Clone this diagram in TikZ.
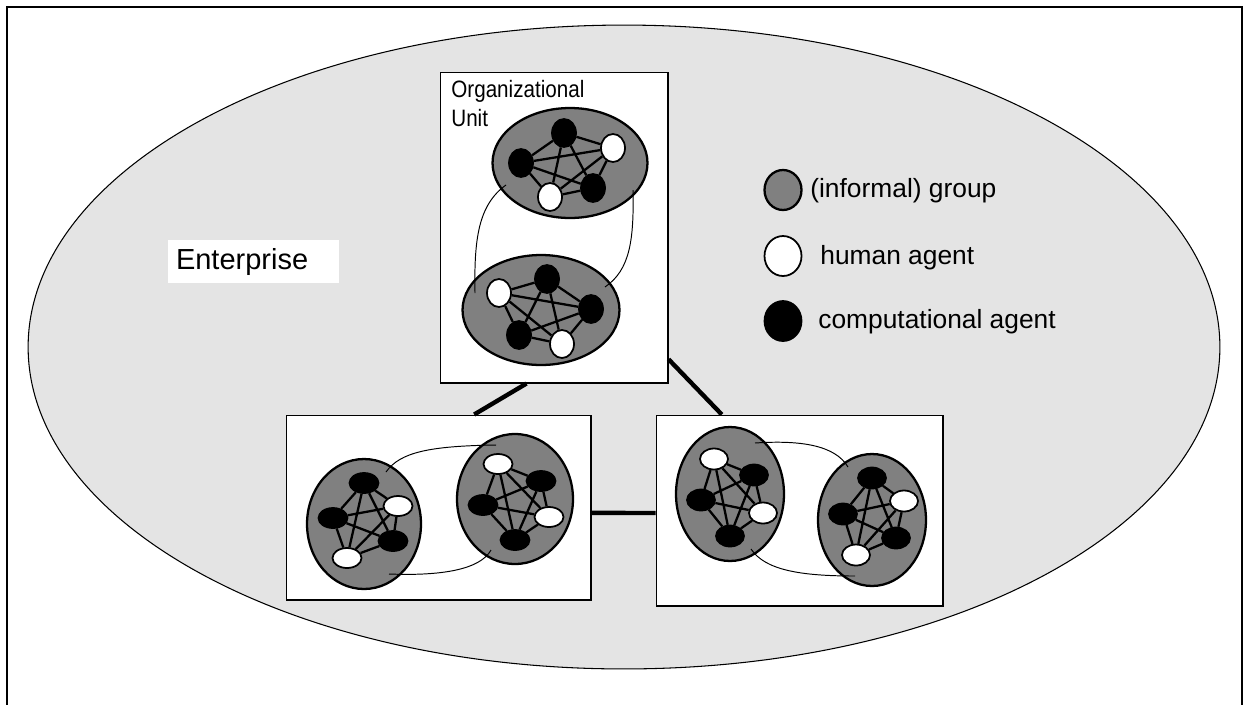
\documentclass[tikz,border=0pt]{standalone}
\usepackage{fontspec}
\setmainfont{Liberation Sans}
\newfontfamily\etroit[FakeStretch=0.87]{Liberation Sans}
\usetikzlibrary{shapes.geometric,calc}

\definecolor{fondent}{RGB}{228,228,228}
\definecolor{gris}{RGB}{128,128,128}

\begin{document}
\begin{tikzpicture}[x=0.02cm,y=-0.02cm]
%styles : groupes, agents et liens
\tikzset{groupe/.style={draw,ellipse,fill=gris,line width=1.3pt,inner sep=0pt},
humain/.style={draw,ellipse,fill=white,line width=1pt,inner sep=0pt},
machine/.style={draw,ellipse,fill=black,line width=1pt,inner sep=0pt},
unite/.style={draw,rectangle,fill=white,line width=0.6pt,inner sep=0pt},
lien/.style={line width=1.3pt},
liaison/.style={line width=2.5pt},
fil/.style={line width=0.55pt},
texte/.style={anchor=base west,inner sep=0pt,font=\fontsize{15}{18}\selectfont}}
\useasboundingbox (0,0) rectangle (1243,704);

%cadre et entreprise
\draw[line width=1.4pt] (7,720) -- (7,7) -- (1242,7) -- (1242,720);
\node[draw,ellipse,fill=fondent,line width=0.6pt,minimum width=23.84cm,minimum height=12.88cm] (ent) at (624,347) {};
\node[fill=white,minimum width=3.42cm,minimum height=0.86cm,text width=3.1cm,inner xsep=0.16cm,inner ysep=0pt,align=left,font=\fontsize{16.5}{20}\selectfont] (nom) at (253.5,261.5) {Enterprise};

%les trois unites
\node[unite,minimum width=4.56cm,minimum height=6.22cm] (ou1) at (554,227.5) {};
\node[unite,minimum width=6.1cm,minimum height=3.7cm] (ou2) at (438.5,507.5) {};
\node[unite,minimum width=5.74cm,minimum height=3.82cm] (ou3) at (799.5,510.5) {};
\node[anchor=north west,align=left,inner sep=0pt,font=\etroit\fontsize{13.5}{16.5}\selectfont] (titre) at (451,80) {Organizational\\Unit};
\draw[liaison] (ou1.-100) -- (ou2.69);
\draw[liaison] (ou1.-49) -- (ou3.129);
\draw[liaison] (ou2.-2) -- (ou3.181);

%unite du haut
\begin{scope}[every node/.append style={minimum width=0.48cm,minimum height=0.56cm}]
\node[groupe,minimum width=3.1cm,minimum height=2.2cm] (g11) at (570,163) {};
\node[groupe,minimum width=3.14cm,minimum height=2.2cm] (g12) at (541,310) {};
\draw[fil] ($(g11)+(-64,22)$) .. controls (478,205) and (474,240) .. ($(g12)+(-66,-17)$);
\draw[fil] ($(g11)+(63,27)$) .. controls (634,240) and (630,270) .. ($(g12)+(64,-23)$);
\node[machine] (g11a) at (564,133) {};
\node[humain] (g11b) at (613,148) {};
\node[machine] (g11c) at (521,163) {};
\node[humain] (g11d) at (550,197) {};
\node[machine] (g11e) at (593,188) {};
\draw[lien] (g11a)--(g11b)--(g11c)--(g11d)--(g11e)--(g11a)--(g11c)--(g11e)--(g11b)--(g11d)--(g11a);
\node[humain] (g12a) at (499,293) {};
\node[machine] (g12b) at (547,279) {};
\node[machine] (g12c) at (591,309) {};
\node[machine] (g12d) at (519,335) {};
\node[humain] (g12e) at (562,344) {};
\draw[lien] (g12a)--(g12b)--(g12c)--(g12d)--(g12e)--(g12a)--(g12c)--(g12e)--(g12b)--(g12d)--(g12a);
\end{scope}

%unite en bas a gauche
\begin{scope}[every node/.append style={minimum width=0.58cm,minimum height=0.4cm}]
\node[groupe,minimum width=2.28cm,minimum height=2.6cm] (g21) at (364,524) {};
\node[groupe,minimum width=2.32cm,minimum height=2.6cm] (g22) at (515,499) {};
\draw[fil] ($(g21)+(22,-52)$) .. controls (400,452) and (430,446) .. ($(g22)+(-19,-54)$);
\draw[fil] ($(g21)+(25,50)$) .. controls (440,576) and (480,570) .. ($(g22)+(-24,51)$);
\node[machine] (g21a) at (364,483) {};
\node[humain] (g21b) at (398,506) {};
\node[machine] (g21c) at (333,518) {};
\node[machine] (g21d) at (393,541) {};
\node[humain] (g21e) at (347,558) {};
\draw[lien] (g21a)--(g21b)--(g21c)--(g21d)--(g21e)--(g21a)--(g21c)--(g21e)--(g21b)--(g21d)--(g21a);
\node[humain] (g22a) at (498,464) {};
\node[machine] (g22b) at (541,481) {};
\node[machine] (g22c) at (483,505) {};
\node[humain] (g22d) at (549,517) {};
\node[machine] (g22e) at (515,540) {};
\draw[lien] (g22a)--(g22b)--(g22c)--(g22d)--(g22e)--(g22a)--(g22c)--(g22e)--(g22b)--(g22d)--(g22a);
\end{scope}

%unite en bas a droite
\begin{scope}[every node/.append style={minimum width=0.56cm,minimum height=0.42cm}]
\node[groupe,minimum width=2.16cm,minimum height=2.68cm] (g31) at (730,494) {};
\node[groupe,minimum width=2.16cm,minimum height=2.64cm] (g32) at (872,520) {};
\draw[fil] ($(g31)+(25,-51)$) .. controls (800,440) and (835,445) .. ($(g32)+(-24,-53)$);
\draw[fil] ($(g31)+(21,55)$) .. controls (765,570) and (800,576) .. ($(g32)+(-17,56)$);
\node[humain] (g31a) at (714,459) {};
\node[machine] (g31b) at (754,475) {};
\node[machine] (g31c) at (701,500) {};
\node[humain] (g31d) at (763,513) {};
\node[machine] (g31e) at (730,536) {};
\draw[lien] (g31a)--(g31b)--(g31c)--(g31d)--(g31e)--(g31a)--(g31c)--(g31e)--(g31b)--(g31d)--(g31a);
\node[machine] (g32a) at (872,478) {};
\node[humain] (g32b) at (904,501) {};
\node[machine] (g32c) at (843,514) {};
\node[machine] (g32d) at (896,538) {};
\node[humain] (g32e) at (856,555) {};
\draw[lien] (g32a)--(g32b)--(g32c)--(g32d)--(g32e)--(g32a)--(g32c)--(g32e)--(g32b)--(g32d)--(g32a);
\end{scope}

%legende
\begin{scope}[every node/.append style={minimum width=0.74cm,minimum height=0.8cm,line width=1.4pt}]
\node[groupe] (lg1) at (783,190) {};
\node[humain] (lg2) at (783,256) {};
\node[machine] (lg3) at (783,321) {};
\end{scope}
\node[texte] (lt1) at (810,197) {(informal) group};
\node[texte] (lt2) at (820,264) {human agent};
\node[texte] (lt3) at (818,328) {computational agent};
\end{tikzpicture}
\end{document}
